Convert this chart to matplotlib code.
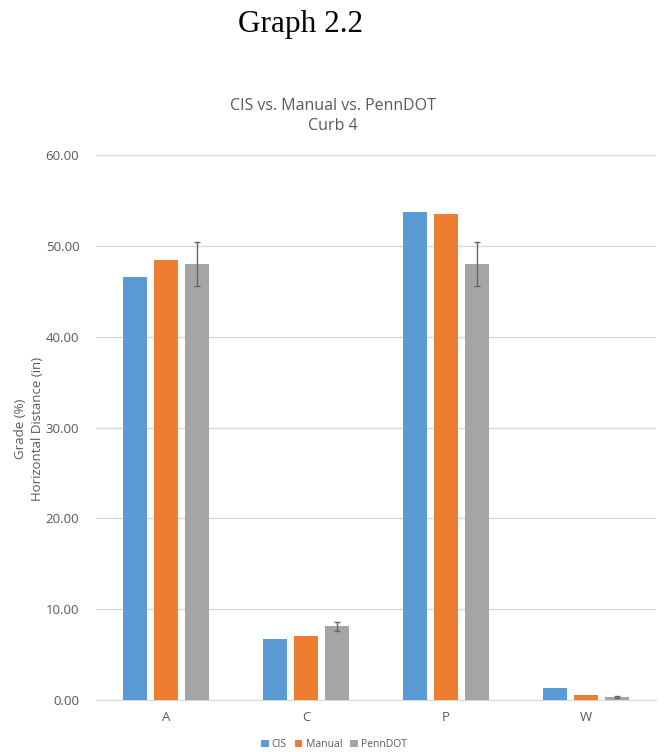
import matplotlib.pyplot as plt
import numpy as np

categories = ["A", "C", "P", "W"]
cis = [46.6, 6.7, 53.7, 1.3]
manual = [48.4, 7.1, 53.5, 0.5]
penndot = [48.0, 8.1, 48.0, 0.35]
penndot_err = [2.4, 0.45, 2.4, 0.1]
series_names = ["CIS", "Manual", "PennDOT"]
colors = ["#5B9BD5", "#ED7D31", "#A5A5A5"]

plt.rcParams['font.family'] = ['Open Sans', 'DejaVu Sans']
txt = "#595959"

fig = plt.figure(figsize=(6.69, 7.52), dpi=100)
ax = fig.add_axes([0.1435, 0.0691, 0.837, 0.7247])

x = np.arange(len(categories))
step = 31 / 140
width = 24 / 140
for i, (vals, name) in enumerate(zip([cis, manual, penndot], series_names)):
    pos = x + (i - 1) * step
    ax.bar(pos, vals, width, color=colors[i], label=name, zorder=3)
    if name == "PennDOT":
        ax.errorbar(pos, vals, yerr=penndot_err, fmt="none", ecolor="#666666",
                    elinewidth=1, capsize=2, capthick=1, zorder=4)

ax.set_xlim(-0.5, 3.5)
ax.set_ylim(0, 60)
ax.set_yticks(np.arange(0, 61, 10))
ax.set_yticklabels([f"{v:.2f}" for v in np.arange(0, 61, 10)])
ax.set_xticks(x)
ax.set_xticklabels(categories)
ax.grid(axis="y", color="#D9D9D9", linewidth=1, zorder=0)
for s in ["top", "right", "left"]:
    ax.spines[s].set_visible(False)
ax.spines["bottom"].set_color("#D9D9D9")
ax.tick_params(axis="both", length=0, colors=txt, labelsize=9.5)
ax.tick_params(axis="y", pad=12)
ax.tick_params(axis="x", pad=8)

# chart title sits left of the axes centre in the original
fig.text(0.498, 0.846, "CIS vs. Manual vs. PennDOT\nCurb 4", color=txt, fontsize=11.5,
         ha="center", va="center", linespacing=1.35)
fig.text(0.030, 0.43, "Grade (%)", rotation=90, color=txt, fontsize=9.5,
         ha="center", va="center")
fig.text(0.056, 0.43, "Horizontal Distance (in)", rotation=90, color=txt, fontsize=9.5,
         ha="center", va="center")

fig.text(0.45, 0.968, "Graph 2.2", family="Liberation Serif", fontsize=22.5,
         ha="center", va="center", color="black")

ax.legend(loc="upper center", bbox_to_anchor=(0.425, -0.055), ncol=3, frameon=False,
          fontsize=7.5, handlelength=0.7, handleheight=0.7, handletextpad=0.3,
          columnspacing=0.8, labelcolor=txt)

fig.savefig("out.png", dpi=100)
